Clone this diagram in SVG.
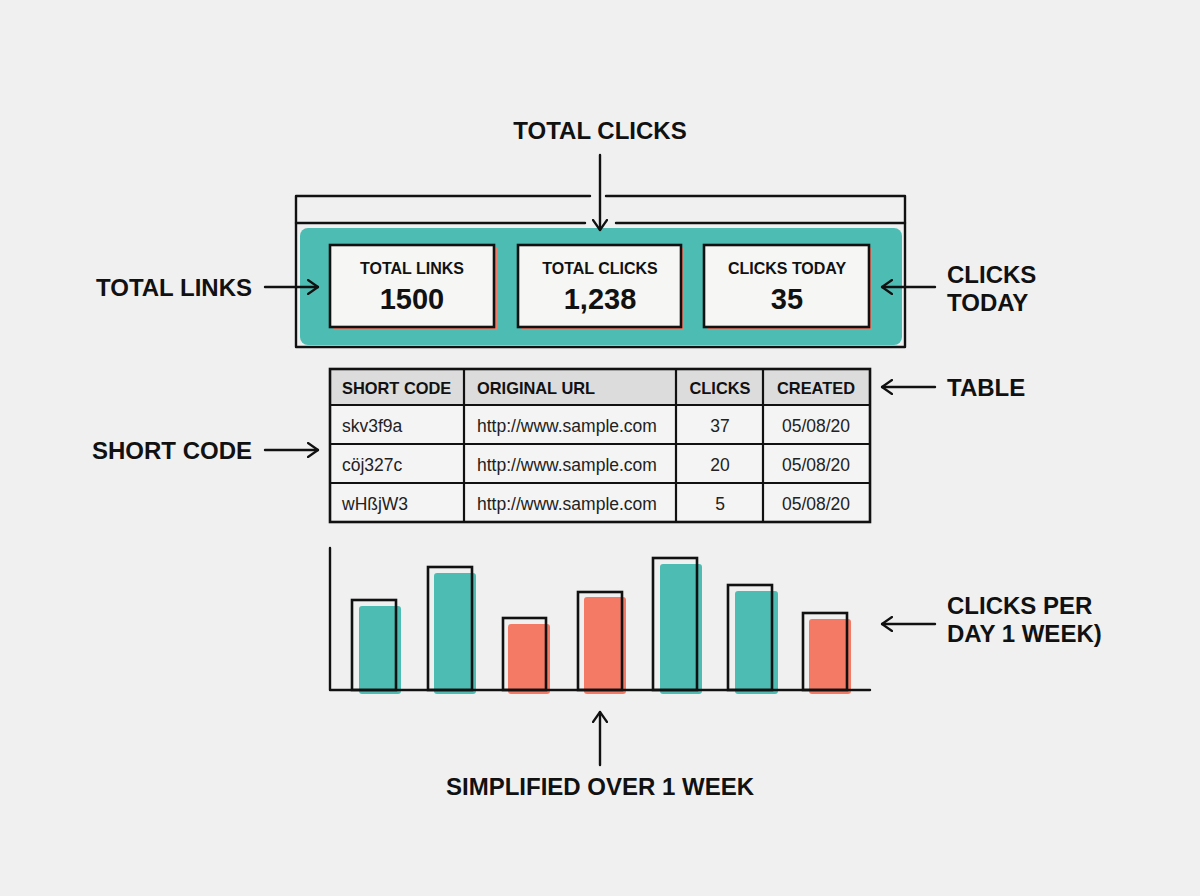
<svg xmlns="http://www.w3.org/2000/svg" width="1200" height="896" viewBox="0 0 1200 896">
<defs>
<style>
.lbl{font-family:"Liberation Sans",Arial,sans-serif;font-weight:bold;font-size:24px;fill:#111}
.ct{font-family:"Liberation Sans",Arial,sans-serif;font-weight:bold;font-size:16px;fill:#111;text-anchor:middle}
.cn{font-family:"Liberation Sans",Arial,sans-serif;font-weight:bold;font-size:29px;fill:#111;text-anchor:middle}
.th{font-family:"Liberation Sans",Arial,sans-serif;font-weight:bold;font-size:16.4px;fill:#111}
.td{font-family:"Liberation Sans",Arial,sans-serif;font-size:17.5px;fill:#222}
.ln{fill:none;stroke:#111;stroke-width:2.4;stroke-linecap:round;stroke-linejoin:round}
.card{fill:#f6f6f4;stroke:#111;stroke-width:2.6}
.shadow{fill:#f47a66}
.teal{fill:#4dbdb3}
.coral{fill:#f47a66}
.bar{fill:none;stroke:#111;stroke-width:2.6}
</style>
<marker id="ah" viewBox="0 0 12 16" refX="11" refY="8" markerWidth="12" markerHeight="16" markerUnits="userSpaceOnUse" orient="auto">
<path d="M1,1 L11,8 L1,15" fill="none" stroke="#111" stroke-width="2.2" stroke-linecap="round" stroke-linejoin="round"/>
</marker>
</defs>
<rect width="1200" height="896" fill="#f0f0f0"/>

<g id="stats-panel">
<path class="ln" d="M296,347 L296,196 L590,196 M606,196 L905,196 L905,347 L296,347"/>
<path class="ln" d="M296,223 L585,223 M616,223 L905,223"/>
<rect class="teal" x="300" y="228" width="602" height="117" rx="8"/>
</g>

<g id="card-total-links">
<rect class="shadow" x="333" y="248" width="164" height="82"/>
<rect class="card" x="330" y="245" width="164" height="82"/>
<text class="ct" x="412" y="274">TOTAL LINKS</text>
<text class="cn" x="412" y="309">1500</text>
</g>
<g id="card-total-clicks">
<rect class="shadow" x="521" y="248" width="163" height="82"/>
<rect class="card" x="518" y="245" width="163" height="82"/>
<text class="ct" x="600" y="274">TOTAL CLICKS</text>
<text class="cn" x="600" y="309">1,238</text>
</g>
<g id="card-clicks-today">
<rect class="shadow" x="707" y="248" width="165" height="82"/>
<rect class="card" x="704" y="245" width="165" height="82"/>
<text class="ct" x="787" y="274">CLICKS TODAY</text>
<text class="cn" x="787" y="309">35</text>
</g>

<g id="table">
<rect x="330" y="369" width="540" height="36" fill="#dcdcdc"/>
<rect x="330" y="405" width="540" height="117" fill="#f4f4f4"/>
<rect x="330" y="369" width="540" height="153" fill="none" stroke="#111" stroke-width="2.6"/>
<path d="M330,405 H870 M330,444 H870 M330,483 H870 M464,369 V522 M676,369 V522 M763,369 V522" stroke="#111" stroke-width="2.2" fill="none"/>
<text class="th" x="342" y="394">SHORT CODE</text>
<text class="th" x="477" y="394">ORIGINAL URL</text>
<text class="th" x="720" y="394" text-anchor="middle">CLICKS</text>
<text class="th" x="816" y="394" text-anchor="middle">CREATED</text>
<text class="td" x="342" y="432">skv3f9a</text>
<text class="td" x="477" y="432">http://www.sample.com</text>
<text class="td" x="720" y="432" text-anchor="middle">37</text>
<text class="td" x="816" y="432" text-anchor="middle">05/08/20</text>
<text class="td" x="342" y="471">cöj327c</text>
<text class="td" x="477" y="471">http://www.sample.com</text>
<text class="td" x="720" y="471" text-anchor="middle">20</text>
<text class="td" x="816" y="471" text-anchor="middle">05/08/20</text>
<text class="td" x="342" y="510">wHßjW3</text>
<text class="td" x="477" y="510">http://www.sample.com</text>
<text class="td" x="720" y="510" text-anchor="middle">5</text>
<text class="td" x="816" y="510" text-anchor="middle">05/08/20</text>
</g>

<g id="chart">
<rect class="teal" x="359" y="606" width="42" height="88" rx="3"/>
<rect class="teal" x="434" y="573" width="42" height="121" rx="3"/>
<rect class="coral" x="508" y="624" width="42" height="70" rx="3"/>
<rect class="coral" x="584" y="597" width="42" height="97" rx="3"/>
<rect class="teal" x="660" y="564" width="42" height="130" rx="3"/>
<rect class="teal" x="735" y="591" width="43" height="103" rx="3"/>
<rect class="coral" x="809" y="619" width="42" height="75" rx="3"/>
<rect class="bar" x="352" y="600" width="44" height="90"/>
<rect class="bar" x="428" y="567" width="44" height="123"/>
<rect class="bar" x="503" y="618" width="43" height="72"/>
<rect class="bar" x="578" y="592" width="44" height="98"/>
<rect class="bar" x="653" y="558" width="44" height="132"/>
<rect class="bar" x="728" y="585" width="44" height="105"/>
<rect class="bar" x="803" y="613" width="44" height="77"/>
<path class="ln" d="M330,548 V690 H870" stroke-width="2.6"/>
</g>

<g id="labels">
<text class="lbl" x="600" y="139" text-anchor="middle">TOTAL CLICKS</text>
<text class="lbl" x="252" y="296" text-anchor="end">TOTAL LINKS</text>
<text class="lbl" x="252" y="459" text-anchor="end">SHORT CODE</text>
<text class="lbl" x="947" y="283">CLICKS</text>
<text class="lbl" x="947" y="311">TODAY</text>
<text class="lbl" x="947" y="396">TABLE</text>
<text class="lbl" x="947" y="614">CLICKS PER</text>
<text class="lbl" x="947" y="642">DAY 1 WEEK)</text>
<text class="lbl" x="600" y="795" text-anchor="middle">SIMPLIFIED OVER 1 WEEK</text>
</g>

<g id="connectors">
<path class="ln" d="M600,155 V230" marker-end="url(#ah)"/>
<path class="ln" d="M265,287 H318" marker-end="url(#ah)"/>
<path class="ln" d="M935,287 H882" marker-end="url(#ah)"/>
<path class="ln" d="M935,387 H882" marker-end="url(#ah)"/>
<path class="ln" d="M265,450 H318" marker-end="url(#ah)"/>
<path class="ln" d="M935,624 H882" marker-end="url(#ah)"/>
<path class="ln" d="M600,765 V712" marker-end="url(#ah)"/>
</g>
</svg>
